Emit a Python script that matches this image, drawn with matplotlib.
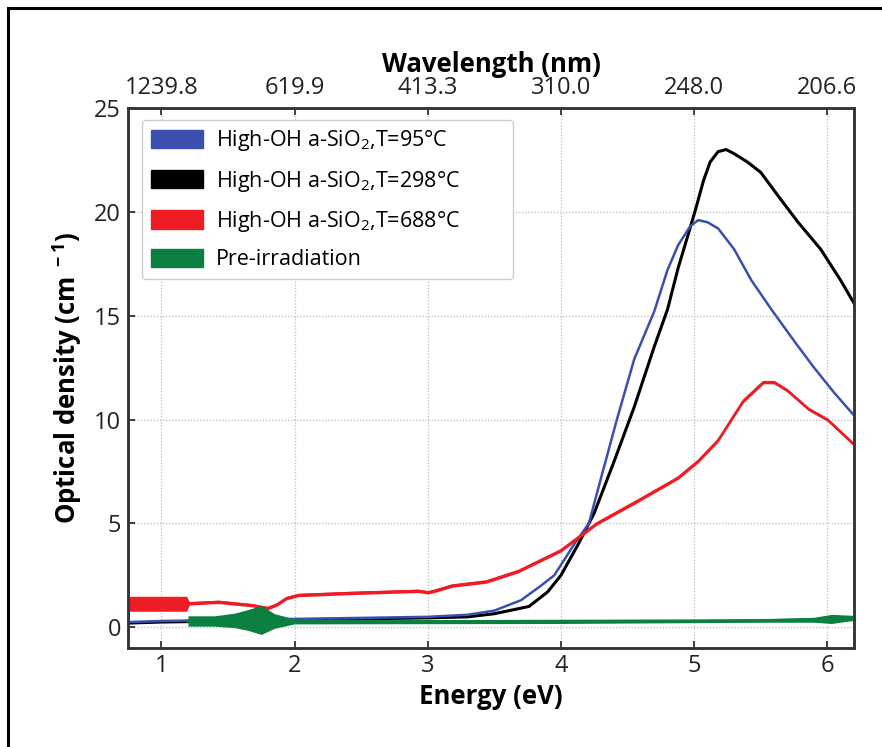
import matplotlib
matplotlib.use("Agg")
import matplotlib.pyplot as plt
from matplotlib.patches import Patch, Rectangle
import numpy as np

plt.rcParams['font.family'] = ['Open Sans', 'DejaVu Sans']
plt.rcParams['mathtext.fontset'] = 'custom'
plt.rcParams['mathtext.rm'] = 'Open Sans'
plt.rcParams['mathtext.default'] = 'regular'

# ---------------- data ----------------
blue_x = [0.75, 1.0, 1.5, 2.0, 2.5, 3.0, 3.3, 3.5, 3.7, 3.85, 3.95, 4.1, 4.21, 4.31, 4.42,
          4.55, 4.7, 4.8, 4.88, 4.97, 5.03, 5.1, 5.18, 5.3, 5.43, 5.58, 5.76, 5.9, 6.05, 6.2]
blue_y = [0.25, 0.3, 0.35, 0.4, 0.45, 0.5, 0.6, 0.8, 1.3, 2.0, 2.5, 4.0, 5.0, 7.4, 10.0,
          12.9, 15.2, 17.2, 18.4, 19.3, 19.6, 19.5, 19.2, 18.2, 16.7, 15.3, 13.7, 12.5, 11.3, 10.2]

black_x = [0.75, 1.0, 1.5, 2.0, 2.5, 3.0, 3.3, 3.5, 3.76, 3.9, 4.0, 4.13, 4.25, 4.4, 4.55,
           4.7, 4.8, 4.88, 4.95, 5.01, 5.07, 5.12, 5.18, 5.24, 5.3, 5.4, 5.5, 5.65, 5.78,
           5.95, 6.1, 6.2]
black_y = [0.2, 0.25, 0.3, 0.35, 0.4, 0.45, 0.5, 0.65, 1.0, 1.7, 2.5, 4.0, 5.5, 8.0, 10.6,
           13.5, 15.3, 17.3, 18.8, 20.1, 21.5, 22.4, 22.9, 23.0, 22.8, 22.4, 21.9, 20.6, 19.5,
           18.2, 16.7, 15.6]

red_x = [0.75, 1.19, 1.21, 1.43, 1.68, 1.8, 1.87, 1.94, 2.03, 2.43, 2.93, 3.0, 3.05, 3.18,
         3.44, 3.68, 4.0, 4.27, 4.58, 4.88, 5.03, 5.18, 5.37, 5.52, 5.6, 5.7, 5.86, 6.0, 6.2]
red_y = [1.13, 1.13, 1.15, 1.22, 1.06, 0.92, 1.1, 1.4, 1.55, 1.65, 1.75, 1.68, 1.75, 2.0,
         2.2, 2.7, 3.7, 5.0, 6.1, 7.2, 8.0, 9.0, 10.9, 11.8, 11.8, 11.4, 10.5, 10.0, 8.8]
red_noise = [0.36, 0.36, 0.08, 0.08, 0.08, 0.08, 0.08, 0.08, 0.08, 0.08, 0.08, 0.08, 0.08,
             0.08, 0.08, 0.08, 0.08, 0.08, 0.08, 0.08, 0.08, 0.08, 0.08, 0.08, 0.08, 0.08,
             0.08, 0.08, 0.08]

green_x = [1.2, 1.4, 1.55, 1.65, 1.75, 1.85, 2.0, 3.0, 4.0, 5.0, 5.5, 5.9, 6.03, 6.2]
green_y = [0.3, 0.3, 0.33, 0.35, 0.35, 0.3, 0.28, 0.27, 0.28, 0.3, 0.32, 0.36, 0.4, 0.45]
green_noise = [0.25, 0.25, 0.35, 0.5, 0.7, 0.35, 0.12, 0.1, 0.1, 0.08, 0.08, 0.12, 0.22, 0.12]

x_ticks = [1, 2, 3, 4, 5, 6]
y_ticks = [0, 5, 10, 15, 20, 25]
wl_labels = ['1239.8', '619.9', '413.3', '310.0', '248.0', '206.6']

labels = ['High-OH a-SiO$_{2}$,T=95°C', 'High-OH a-SiO$_{2}$,T=298°C',
          'High-OH a-SiO$_{2}$,T=688°C', 'Pre-irradiation']
c_blue, c_black, c_red, c_green = '#3a4fae', '#000000', '#ee1c24', '#0b8040'

# ---------------- figure ----------------
fig = plt.figure(figsize=(8.82, 7.47), dpi=100)
fig.patches.append(Rectangle((8 / 882, -0.1), 1.2, (739 / 747) + 0.1,
                             transform=fig.transFigure, fill=False,
                             edgecolor='black', linewidth=2.2, zorder=0))

ax = fig.add_axes([128 / 882, 1 - 648 / 747, (854 - 128) / 882, (648 - 108) / 747])

ax.grid(True, color='#bbbbbb', linestyle=(0, (1, 1.5)), linewidth=0.9)
ax.set_axisbelow(True)

ax.fill_between(green_x, np.array(green_y) - np.array(green_noise),
                np.array(green_y) + np.array(green_noise), color=c_green, lw=0, zorder=4)
ax.plot(green_x, green_y, color=c_green, lw=2.2, zorder=4)
ax.plot(black_x, black_y, color=c_black, lw=2.2, zorder=3)
ax.plot(blue_x, blue_y, color=c_blue, lw=1.8, zorder=3)
ax.fill_between(red_x, np.array(red_y) - np.array(red_noise),
                np.array(red_y) + np.array(red_noise), color=c_red, lw=0, zorder=3)
ax.plot(red_x, red_y, color=c_red, lw=1.8, zorder=3)

ax.set_xlim(0.75, 6.2)
ax.set_ylim(-1, 25)
ax.set_xticks(x_ticks)
ax.set_yticks(y_ticks)
ax.tick_params(direction='in', length=5, width=1.2, labelsize=17, pad=4, colors='#222222')
ax.tick_params(axis='y', pad=5)
for s in ax.spines.values():
    s.set_linewidth(1.8)
    s.set_color('#333333')

ax.set_xlabel('Energy (eV)', fontsize=18.5, fontweight='bold', labelpad=4)
ax.set_ylabel('Optical density (cm$^{\\ -1}$)', fontsize=18.5, fontweight='bold', labelpad=7)

ax2 = ax.twiny()
ax2.set_xlim(ax.get_xlim())
ax2.set_xticks(x_ticks)
ax2.set_xticklabels(wl_labels)
ax2.tick_params(direction='in', length=5, width=1.2, labelsize=17, pad=6, colors='#222222')
ax2.set_xlabel('Wavelength (nm)', fontsize=18.5, fontweight='bold', labelpad=3)
for s in ax2.spines.values():
    s.set_linewidth(1.8)
    s.set_color('#333333')

handles = [Patch(facecolor=c, edgecolor=c) for c in (c_blue, c_black, c_red, c_green)]
leg = ax.legend(handles, labels, loc='upper left',
                bbox_to_anchor=(14 / 726, 0, (513 - 142) / 726, 0.978), mode='expand',
                fontsize=15.5, handlelength=2.45, handleheight=0.95, handletextpad=0.6,
                labelspacing=0.7, borderpad=0.4, borderaxespad=0, fancybox=True,
                framealpha=1, edgecolor='#cccccc')
leg.get_frame().set_linewidth(1.0)

fig.savefig('out.png', dpi=100)
